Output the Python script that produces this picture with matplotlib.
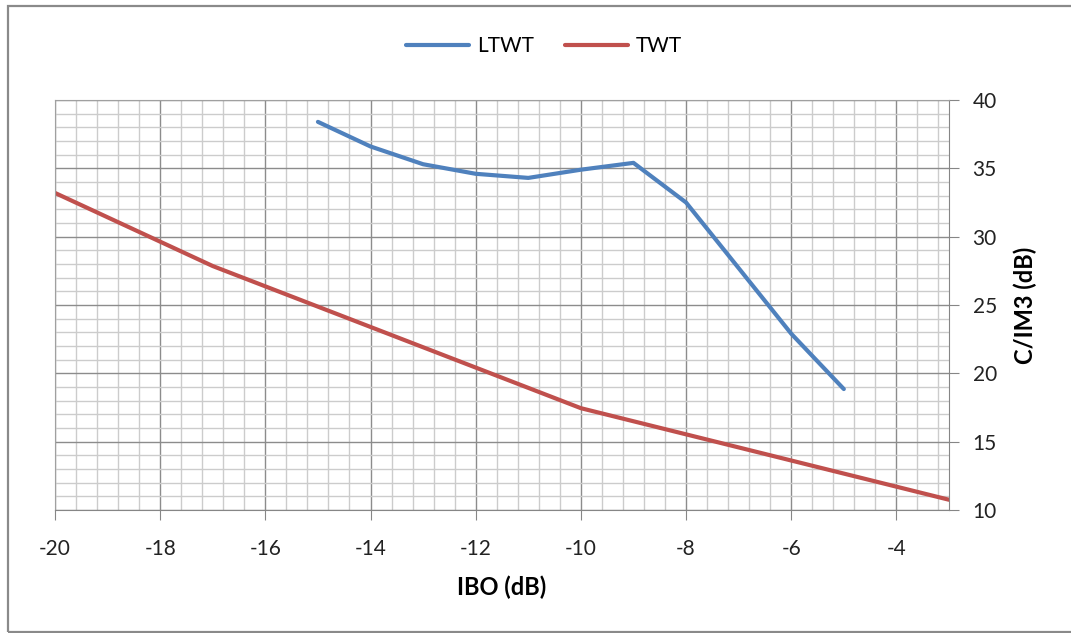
import matplotlib.pyplot as plt
from matplotlib.ticker import MultipleLocator
from matplotlib.patches import Rectangle

# data
ltwt_ibo = [-15, -14, -13, -12, -11, -10, -9, -8, -6, -5]
ltwt_cim3 = [38.4, 36.6, 35.3, 34.6, 34.3, 34.9, 35.4, 32.5, 22.9, 18.85]
twt_ibo = [-20, -17, -10, -3]
twt_cim3 = [33.2, 27.85, 17.45, 10.75]

x_label = 'IBO (dB)'
y_label = 'C/IM3 (dB)'

plt.rcParams['font.family'] = ['Lato', 'DejaVu Sans']
plt.rcParams['axes.unicode_minus'] = False

fig = plt.figure(figsize=(10.71, 6.33), dpi=100)
W, H = 1071, 633
ax = fig.add_axes([55 / W, 1 - 510 / H, (949 - 55) / W, (510 - 100) / H])

# outer chart frame
fig.patches.append(Rectangle((8 / W, 1 / H), 1.2, 1 - 7 / H, transform=fig.transFigure,
                             fill=False, edgecolor='#8a8a8a', linewidth=1.6))

ax.plot(ltwt_ibo, ltwt_cim3, color='#4F81BD', linewidth=3, label='LTWT',
        solid_capstyle='round', solid_joinstyle='round')
ax.plot(twt_ibo, twt_cim3, color='#C0504D', linewidth=3, label='TWT',
        solid_capstyle='round', solid_joinstyle='round')

ax.set_xlim(-20, -3)
ax.set_ylim(10, 40)
ax.xaxis.set_major_locator(MultipleLocator(2))
ax.xaxis.set_minor_locator(MultipleLocator(0.4))
ax.yaxis.set_major_locator(MultipleLocator(5))
ax.yaxis.set_minor_locator(MultipleLocator(1))

ax.grid(which='major', color='#8c8c8c', linewidth=1.0)
ax.grid(which='minor', color='#cccccc', linewidth=1.0)
ax.set_axisbelow(True)

ax.yaxis.tick_right()
ax.yaxis.set_label_position('right')
ax.tick_params(which='major', direction='out', length=7, color='#868686',
               labelsize=15, labelcolor='#222222')
ax.tick_params(which='minor', length=0)
ax.tick_params(axis='x', pad=14)
ax.tick_params(axis='y', pad=10)
for s in ax.spines.values():
    s.set_color('#a0a0a0')
ax.spines['bottom'].set_color('#868686')
ax.spines['right'].set_color('#868686')

ax.set_xlabel(x_label, fontsize=17, fontweight='bold', labelpad=12)
ax.set_ylabel(y_label, fontsize=17, fontweight='bold', labelpad=12)

fig.legend(loc='center', bbox_to_anchor=(544 / W, 1 - 46 / H), ncol=2, frameon=False,
           fontsize=15, handlelength=3.0, columnspacing=1.5, handletextpad=0.4)

fig.savefig('out.png', dpi=100)
